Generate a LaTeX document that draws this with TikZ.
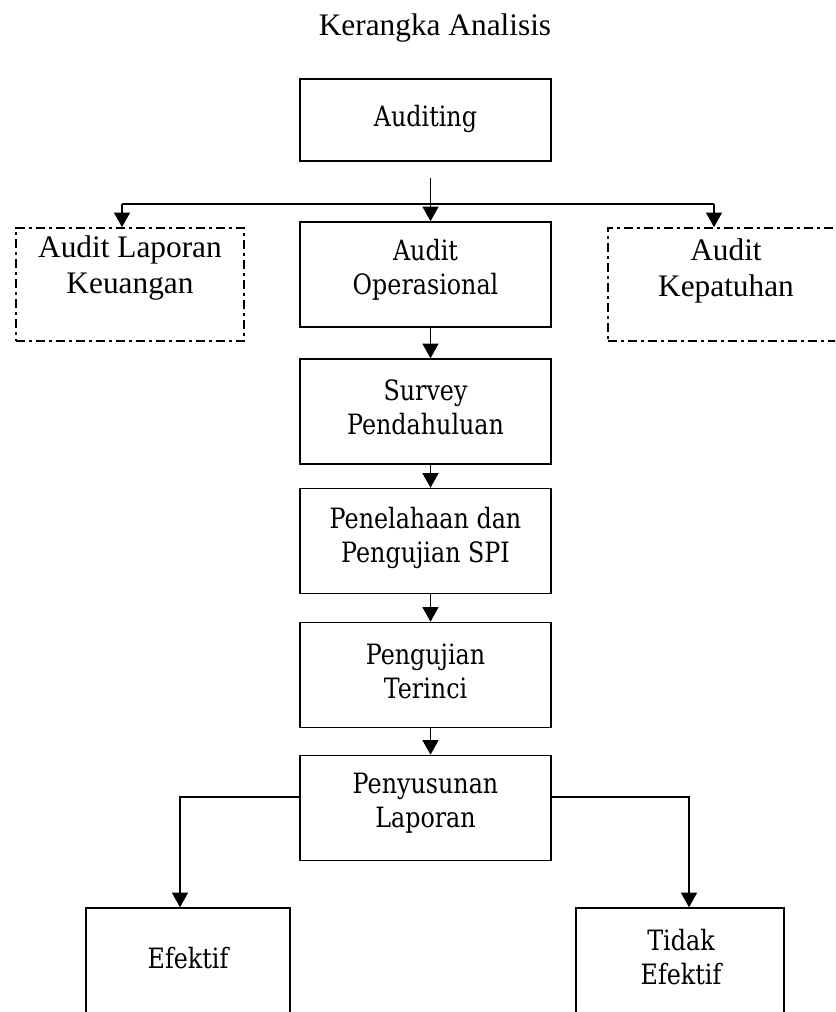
\documentclass[tikz,border=0pt]{standalone}
\usepackage{fontspec}
\setmainfont{Liberation Serif}
\newfontfamily\boxfont{DejaVu Serif}[FakeStretch=0.85]
\usetikzlibrary{arrows.meta}

\begin{document}
\begin{tikzpicture}[x=0.75pt, y=-0.75pt]
    % Define styles
    \tikzset{
        judul/.style={font=\fontsize{23.5}{27}\selectfont},
        flowbox/.style={draw, line width=1.1pt, minimum width=188.25pt, minimum height=78.75pt, inner sep=0pt},
        dashbox/.style={draw, line width=1.2pt, dash pattern=on 7pt off 3pt on 2pt off 3pt, minimum height=84.75pt, inner sep=0pt},
        endbox/.style={draw, line width=1.1pt, minimum width=153pt, minimum height=120pt, inner sep=0pt},
        boxtext/.style={font=\boxfont\fontsize{21}{25.5}\selectfont, align=center},
        dashtext/.style={font=\fontsize{23.5}{27}\selectfont, align=center},
        connector/.style={line width=1.1pt},
        arrow/.style={line width=1.1pt, -{Triangle[width=12pt, length=11pt]}}
    }

    % Page frame
    \path[use as bounding box, clip] (0,0) rectangle (835,1012);

    % Title
    \node[judul] (judul) at (435,28) {Kerangka Analisis};

    % Top box
    \node[flowbox, minimum height=61.5pt] (auditing) at (425.5,120) {};
    \node[boxtext] (auditing-t) at (425.5,119) {Auditing};

    % Three kinds of audit
    \node[dashbox, minimum width=171pt] (laporan) at (130,284.5) {};
    \node[dashtext] (laporan-t) at (130,268.5) {Audit Laporan\\Keuangan};
    \node[dashbox, minimum width=177pt] (kepatuhan) at (726,284.5) {};
    \node[dashtext] (kepatuhan-t) at (726,271) {Audit\\Kepatuhan};

    % Main column
    \node[flowbox] (operasional) at (425.5,274.5) {};
    \node[boxtext] (operasional-t) at (425.5,270) {Audit\\Operasional};
    \node[flowbox] (survey) at (425.5,411.5) {};
    \node[boxtext] (survey-t) at (425.5,407) {Survey\\Pendahuluan};
    \node[flowbox] (penelahaan) at (425.5,541) {};
    \node[boxtext] (penelahaan-t) at (425.5,537.5) {Penelahaan dan\\Pengujian SPI};
    \node[flowbox] (terinci) at (425.5,675) {};
    \node[boxtext] (terinci-t) at (425.5,671) {Pengujian\\Terinci};
    \node[flowbox] (penyusunan) at (425.5,808) {};
    \node[boxtext] (penyusunan-t) at (425.5,803) {Penyusunan\\Laporan};

    % Results (cut off at the bottom)
    \node[endbox] (efektif) at (188,988) {};
    \node[boxtext] (efektif-t) at (188,958) {Efektif};
    \node[endbox, minimum width=156pt] (tidak) at (680,988) {};
    \node[boxtext] (tidak-t) at (681,957) {Tidak\\Efektif};

    % Split below Auditing
    \coordinate (kiri) at (122,204);
    \coordinate (kanan) at (714,204);
    \draw[connector] (kiri) -- (kanan);
    \draw[arrow] ([shift={(5,16)}]auditing.south) -- ([xshift=3.75pt]operasional.north);
    \draw[arrow] (kiri) -- (kiri |- laporan.north);
    \draw[arrow] (kanan) -- (kanan |- kepatuhan.north);

    % Steps
    \foreach \a/\b in {operasional/survey, survey/penelahaan, penelahaan/terinci, terinci/penyusunan}
        \draw[arrow] ([xshift=3.75pt]\a.south) -- ([xshift=3.75pt]\b.north);

    % Outcomes
    \draw[arrow] ([yshift=8.25pt]penyusunan.west) -| ([xshift=-6pt]efektif.north);
    \draw[arrow] ([yshift=8.25pt]penyusunan.east) -| ([xshift=6.75pt]tidak.north);

\end{tikzpicture}
\end{document}
